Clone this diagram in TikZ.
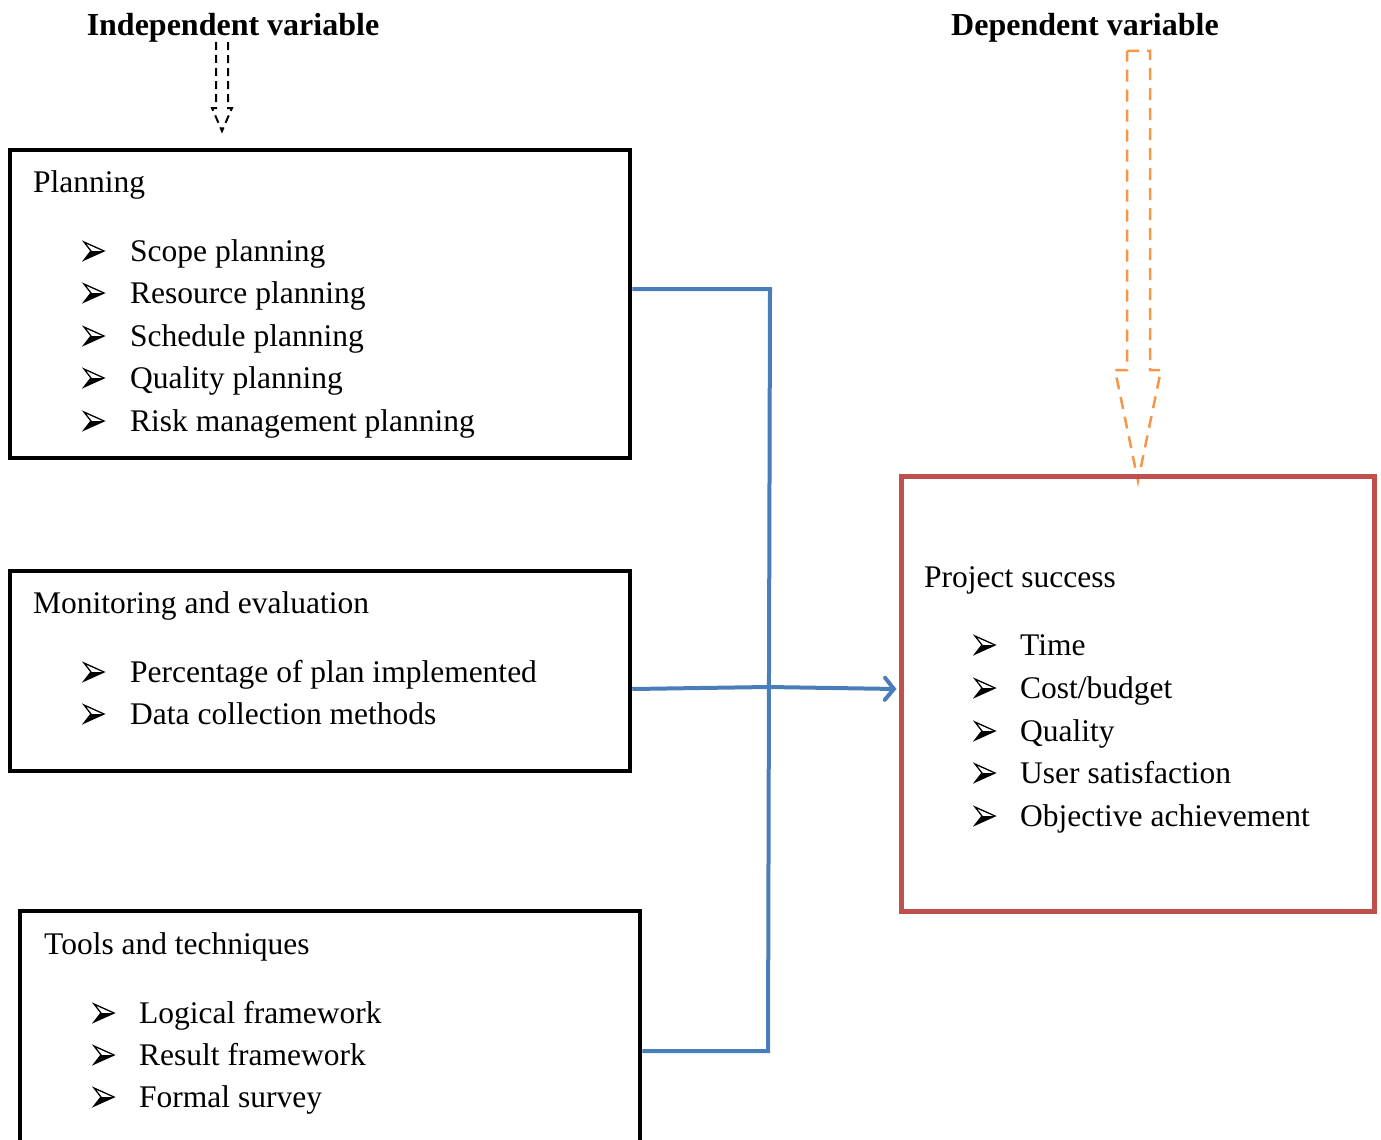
\documentclass[tikz,border=0pt]{standalone}
\usepackage{fontspec}
\setmainfont{Liberation Serif}
\usetikzlibrary{arrows.meta}
\definecolor{boxred}{RGB}{192,80,77}
\definecolor{lineblue}{RGB}{74,126,187}
\definecolor{arrorange}{RGB}{247,150,70}
\tikzset{
  x=1pt,y=-1pt,
  blackbox/.style={draw=black,line width=4.5pt,rectangle,inner sep=0pt},
  redbox/.style={draw=boxred,line width=5pt,rectangle,inner sep=0pt},
  txt/.style={anchor=base west,inner sep=0pt,font=\fontsize{31.5}{36}\selectfont},
  head/.style={anchor=base,inner sep=0pt,font=\fontsize{32}{36}\selectfont\bfseries},
  conn/.style={draw=lineblue,line width=4pt},
  ahead/.pic={
    \fill[black] (-3,0) -- (10,0) -- (-10,9) -- cycle;
    \draw[black,line width=1.3pt,line join=miter] (-3,0) -- (-10,-9) -- (10,0) -- (-10,9) -- cycle;
  },
}
\begin{document}
\begin{tikzpicture}
\useasboundingbox (0,0) rectangle (1381,1140);
\clip (0,0) rectangle (1381,1140);
% headings
\node[head] (indep) at (233,36) {Independent variable};
\node[head] (dep) at (1085,36) {Dependent variable};
% dashed block arrows
\draw[black,line width=2pt,dash pattern=on 8pt off 5pt] (216,42) -- (216,108) -- (212,108) -- (222,131) -- (232,108) -- (228,108) -- (228,42);
\draw[arrorange,line width=2.5pt,dash pattern=on 12pt off 8pt] (1127,51) -- (1150,51) -- (1150,370) -- (1161,370) -- (1138,481) -- (1115,370) -- (1127,370) -- cycle;
% boxes
\node[blackbox,minimum width=620,minimum height=308] (plan) at (320,304) {};
\node[blackbox,minimum width=620,minimum height=200] (mon) at (320,671) {};
\node[blackbox,minimum width=620,minimum height=300] (tools) at (330,1061) {};
\node[redbox,minimum width=473,minimum height=435] (succ) at (1137.5,693.5) {};
% planning text
\node[txt] (pt) at (33,192) {Planning};
\foreach \y/\t [count=\i] in {251/Scope planning,293/Resource planning,336/Schedule planning,378/Quality planning,421/Risk management planning}{
  \pic at (94,\y) {ahead};
  \node[txt] (pl\i) at (130,\y+10) {\t};
}
% monitoring text
\node[txt] (mt) at (33,613) {Monitoring and evaluation};
\foreach \y/\t [count=\i] in {672/Percentage of plan implemented,714/Data collection methods}{
  \pic at (94,\y) {ahead};
  \node[txt] (ml\i) at (130,\y+10) {\t};
}
% tools text
\node[txt] (tt) at (44,954) {Tools and techniques};
\foreach \y/\t [count=\i] in {1013/Logical framework,1055/Result framework,1097/Formal survey}{
  \pic at (104,\y) {ahead};
  \node[txt] (tl\i) at (139,\y+10) {\t};
}
% success text
\node[txt] (st) at (924,587) {Project success};
\foreach \y/\t [count=\i] in {645/Time,688/{Cost/budget},731/Quality,773/User satisfaction,816/Objective achievement}{
  \pic at (985,\y) {ahead};
  \node[txt] (sl\i) at (1020,\y+10) {\t};
}
% connectors
\coordinate (j1) at (770,289);
\coordinate (j2) at (768,687);
\coordinate (j3) at (768,1051);
\draw[conn] ([yshift=15]plan.east) -- (j1) -- (j3) -- ([yshift=10]tools.east);
\draw[conn] ([yshift=-18]mon.east) -- (j2);
\draw[conn,line cap=round,-{Straight Barb[length=9pt,width=22pt,line cap=round]}] (j2) -- ([yshift=4.5,xshift=-2]succ.west);
\end{tikzpicture}
\end{document}
